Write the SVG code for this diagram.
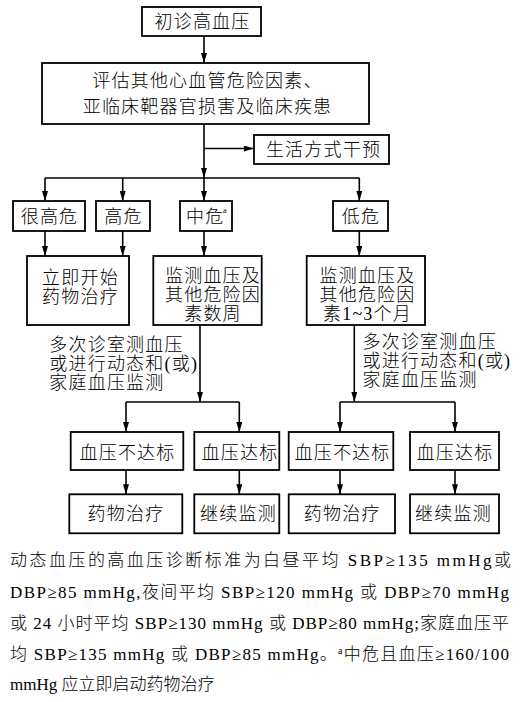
<svg xmlns="http://www.w3.org/2000/svg" width="522" height="702" viewBox="0 0 522 702">
<style>
  .box { fill: #fff; stroke: #000; stroke-width: 1.8; }
  .ln { fill: none; stroke: #000; stroke-width: 1.6; }
  .arr { fill: none; stroke: #000; stroke-width: 1.6; marker-end: url(#ah); }
  text { font-family: "Liberation Serif", "Noto Sans CJK SC", serif; fill: #000; font-weight: 300; }
  .t { font-size: 18px; letter-spacing: 1.2px; text-anchor: middle; }
  .l { font-size: 18px; letter-spacing: 1.2px; text-anchor: start; }
  .fn { font-size: 17px; }
  .sup { font-size: 8px; letter-spacing: 0; }
</style>
<defs>
  <marker id="ah" markerUnits="userSpaceOnUse" markerWidth="10" markerHeight="6" refX="10" refY="3" orient="auto">
    <path d="M0,0 L10,3 L0,6 z" fill="#000"/>
  </marker>
</defs>
<rect width="522" height="702" fill="#fff"/>

<g id="connectors">
  <line class="arr" x1="204" y1="36" x2="204" y2="63"/>
  <line class="arr" x1="204" y1="124" x2="204" y2="178"/>
  <line class="arr" x1="204" y1="148.5" x2="254" y2="148.5"/>
  <line class="ln" x1="45" y1="178" x2="359.5" y2="178"/>
  <line class="arr" x1="45" y1="178" x2="45" y2="201"/>
  <line class="arr" x1="122.7" y1="178" x2="122.7" y2="201"/>
  <line class="arr" x1="204" y1="178" x2="204" y2="201"/>
  <line class="arr" x1="359.3" y1="178" x2="359.3" y2="201"/>
  <line class="arr" x1="45" y1="231" x2="45" y2="256"/>
  <line class="arr" x1="122.7" y1="231" x2="122.7" y2="256"/>
  <line class="arr" x1="204" y1="231" x2="204" y2="256"/>
  <line class="arr" x1="359.3" y1="231" x2="359.3" y2="256"/>
  <line class="arr" x1="200" y1="325" x2="200" y2="402"/>
  <line class="arr" x1="354.3" y1="325" x2="354.3" y2="402"/>
  <line class="ln" x1="126" y1="402" x2="239.3" y2="402"/>
  <line class="ln" x1="340" y1="402" x2="455" y2="402"/>
  <line class="arr" x1="126" y1="402" x2="126" y2="432"/>
  <line class="arr" x1="239.3" y1="402" x2="239.3" y2="432"/>
  <line class="arr" x1="340" y1="402" x2="340" y2="432"/>
  <line class="arr" x1="455" y1="402" x2="455" y2="432"/>
  <line class="arr" x1="126" y1="470" x2="126" y2="494.3"/>
  <line class="arr" x1="239.3" y1="470" x2="239.3" y2="494.3"/>
  <line class="arr" x1="340" y1="470" x2="340" y2="494.3"/>
  <line class="arr" x1="455" y1="470" x2="455" y2="494.3"/>
</g>

<g id="n-start">
  <rect class="box" x="142" y="7" width="119" height="29"/>
  <text class="t" x="202.5" y="28">初诊高血压</text>
</g>
<g id="n-assess">
  <rect class="box" x="42" y="63" width="327" height="61"/>
  <text class="t"><tspan x="207.5" y="87.3">评估其他心血管危险因素、</tspan><tspan x="207.5" y="112.5">亚临床靶器官损害及临床疾患</tspan></text>
</g>
<g id="n-lifestyle">
  <rect class="box" x="254" y="135" width="135" height="29"/>
  <text class="t" x="323.5" y="156">生活方式干预</text>
</g>

<g id="n-vhigh">
  <rect class="box" x="13" y="201" width="72" height="30"/>
  <text class="t" x="49.5" y="222.5">很高危</text>
</g>
<g id="n-high">
  <rect class="box" x="96" y="201" width="54" height="30"/>
  <text class="t" x="123.5" y="222.5">高危</text>
</g>
<g id="n-mid">
  <rect class="box" x="180" y="201" width="52" height="30"/>
  <text class="l" x="186" y="222.5">中危<tspan class="sup" x="223" dy="-9.5">a</tspan></text>
</g>
<g id="n-low">
  <rect class="box" x="333" y="201" width="55" height="30"/>
  <text class="t" x="361" y="222.5">低危</text>
</g>

<g id="n-drug-now">
  <rect class="box" x="27" y="256" width="102" height="69"/>
  <text class="t"><tspan x="80.5" y="283.5">立即开始</tspan><tspan x="80.5" y="302.5">药物治疗</tspan></text>
</g>
<g id="n-mon-weeks">
  <rect class="box" x="153.3" y="256" width="108.4" height="69"/>
  <text class="t"><tspan x="213" y="282">监测血压及</tspan><tspan x="213" y="301">其他危险因</tspan><tspan x="213" y="320">素数周</tspan></text>
</g>
<g id="n-mon-months">
  <rect class="box" x="306.7" y="256" width="118.3" height="69"/>
  <text class="t"><tspan x="367.5" y="282">监测血压及</tspan><tspan x="367.5" y="301">其他危险因</tspan><tspan x="367.5" y="320">素1~3个月</tspan></text>
</g>

<g id="lbl-left">
  <text class="l"><tspan x="49.3" y="350.5">多次诊室测血压</tspan><tspan x="49.3" y="369.5">或进行动态和(或)</tspan><tspan x="49.3" y="388.5">家庭血压监测</tspan></text>
</g>
<g id="lbl-right">
  <text class="l"><tspan x="362.5" y="348">多次诊室测血压</tspan><tspan x="362.5" y="367">或进行动态和(或)</tspan><tspan x="362.5" y="386">家庭血压监测</tspan></text>
</g>

<g id="n-l-notmet">
  <rect class="box" x="70.7" y="432" width="112.6" height="38"/>
  <text class="t" x="127.5" y="458.5">血压不达标</text>
</g>
<g id="n-l-met">
  <rect class="box" x="194.3" y="432" width="85" height="38"/>
  <text class="t" x="240" y="458.5">血压达标</text>
</g>
<g id="n-r-notmet">
  <rect class="box" x="288.7" y="432" width="104.6" height="38"/>
  <text class="t" x="342.5" y="458.5">血压不达标</text>
</g>
<g id="n-r-met">
  <rect class="box" x="410" y="432" width="89" height="38"/>
  <text class="t" x="455" y="458.5">血压达标</text>
</g>

<g id="n-l-drug">
  <rect class="box" x="69.3" y="494.3" width="113" height="39"/>
  <text class="t" x="126" y="520">药物治疗</text>
</g>
<g id="n-l-mon">
  <rect class="box" x="194.3" y="494.3" width="85" height="39"/>
  <text class="t" x="238.5" y="520">继续监测</text>
</g>
<g id="n-r-drug">
  <rect class="box" x="288.7" y="494.3" width="106.3" height="39"/>
  <text class="t" x="342.2" y="520">药物治疗</text>
</g>
<g id="n-r-mon">
  <rect class="box" x="410" y="494.3" width="89" height="39"/>
  <text class="t" x="453.5" y="520">继续监测</text>
</g>

<g id="footnote">
  <text class="fn" x="10" y="566.3" textLength="501" lengthAdjust="spacing">动态血压的高血压诊断标准为白昼平均 SBP≥135 mmHg或</text>
  <text class="fn" x="10" y="597.5" textLength="499" lengthAdjust="spacing">DBP≥85 mmHg,夜间平均 SBP≥120 mmHg 或 DBP≥70 mmHg</text>
  <text class="fn" x="10" y="628.5" textLength="499" lengthAdjust="spacing">或 24 小时平均 SBP≥130 mmHg 或 DBP≥80 mmHg;家庭血压平</text>
  <text class="fn" x="10" y="659.5" textLength="499" lengthAdjust="spacing">均 SBP≥135 mmHg 或 DBP≥85 mmHg。<tspan font-size="10" dy="-6">a</tspan><tspan dy="6">中危且血压≥160/100</tspan></text>
  <text class="fn" x="10" y="690">mmHg 应立即启动药物治疗</text>
</g>
</svg>
